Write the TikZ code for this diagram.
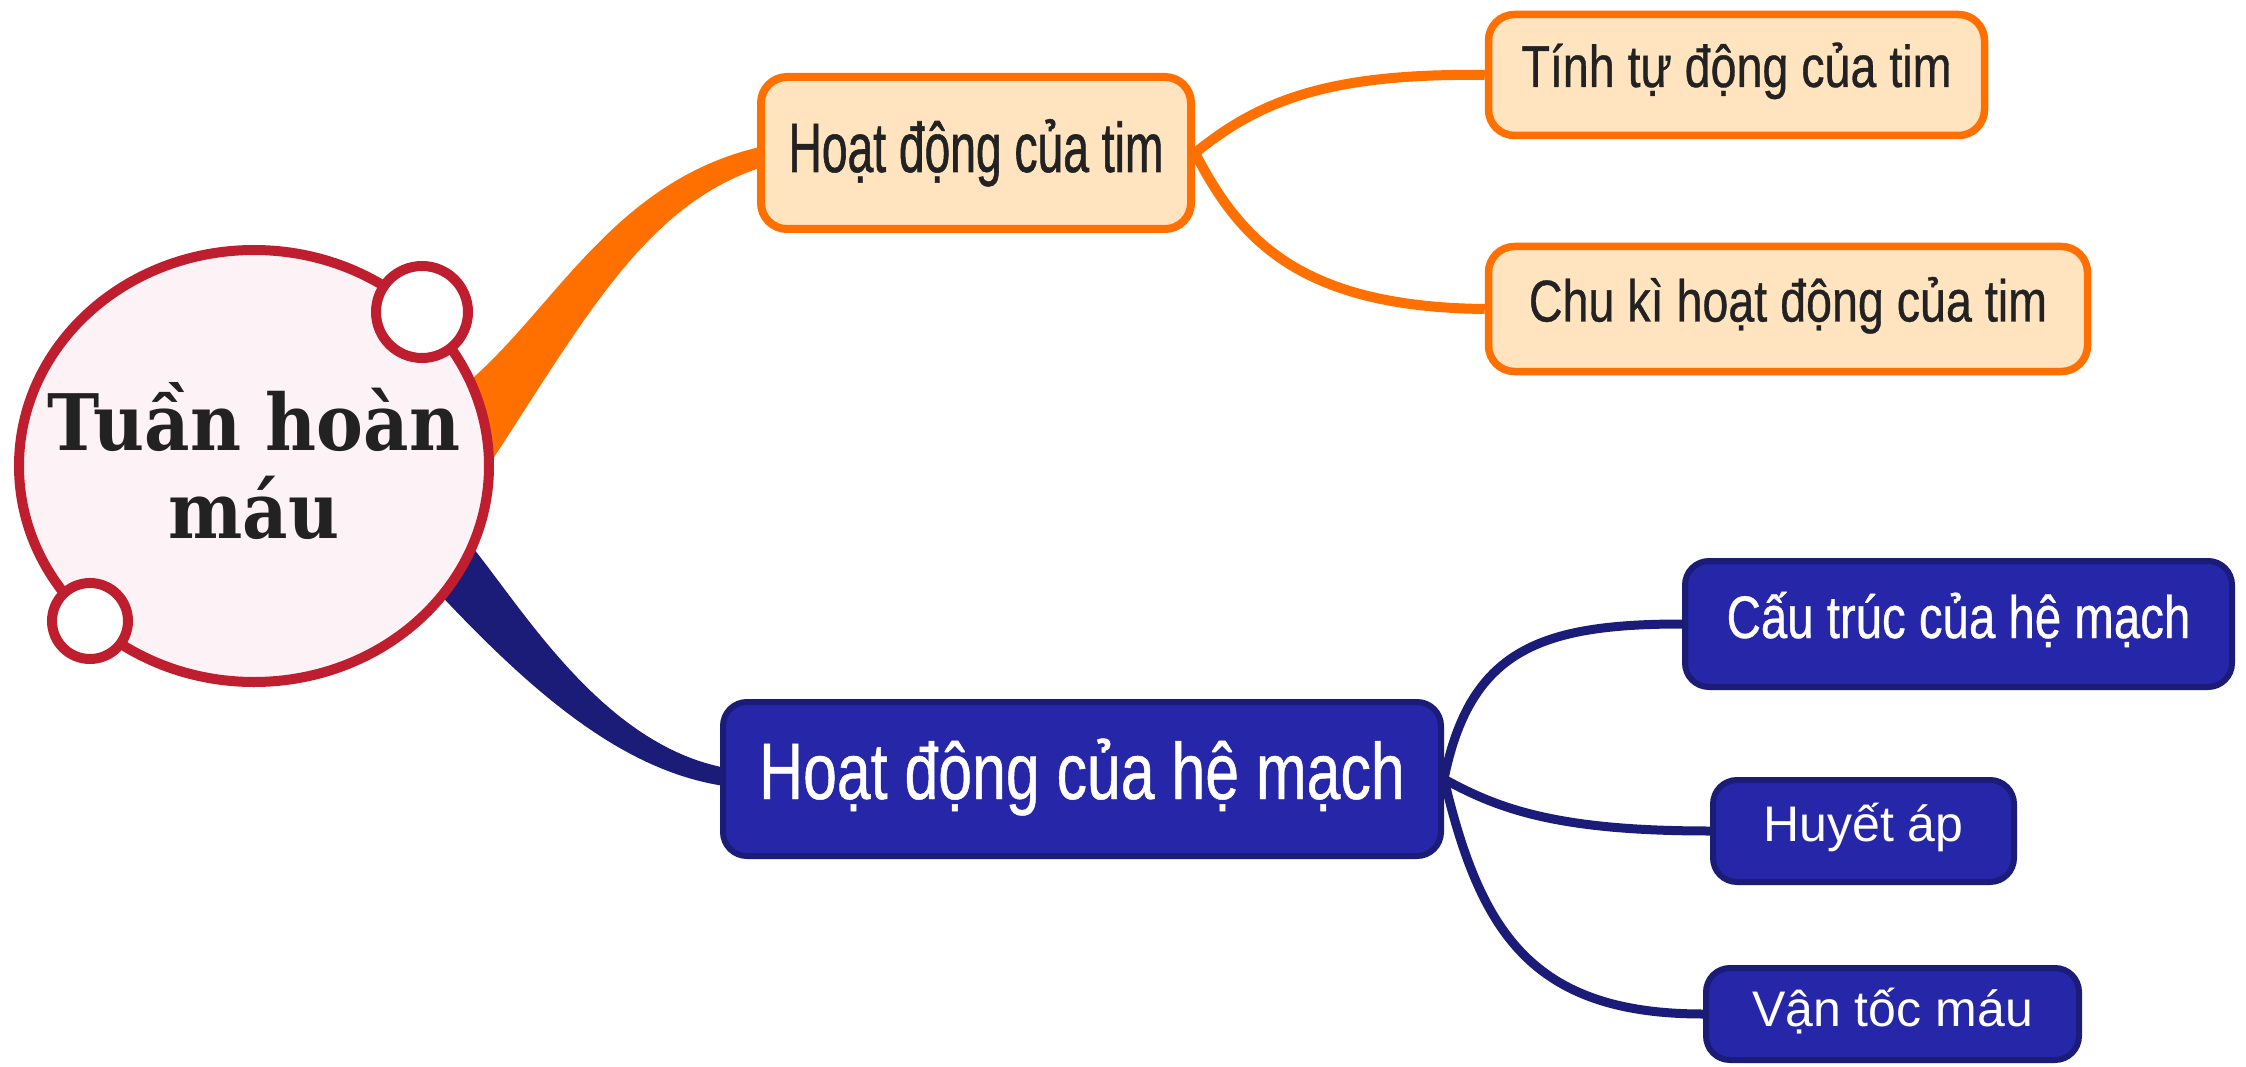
\documentclass[tikz,border=0pt]{standalone}
\usepackage{fontspec}
\usetikzlibrary{shapes.geometric,backgrounds,calc}

% Typefaces: a slab-like bold serif for the hub, narrow sans for the topics
\newfontfamily\hubfont{DejaVu Serif}[FakeStretch=0.9]
\newfontfamily\tightsans{Liberation Sans}[FakeStretch=0.66,FakeBold=0.8]
\newfontfamily\narrowsans{Liberation Sans}[FakeStretch=0.79,FakeBold=0.6]
\newfontfamily\midsans{Liberation Sans}[FakeStretch=0.76,FakeBold=0.6]
\newfontfamily\plainsans{Liberation Sans}

\definecolor{crimson}{RGB}{190,30,45}
\definecolor{blush}{RGB}{253,242,245}
\definecolor{flame}{RGB}{255,112,0}
\definecolor{peach}{RGB}{255,228,191}
\definecolor{indigo}{RGB}{38,38,168}
\definecolor{navyline}{RGB}{27,27,120}
\definecolor{ink}{RGB}{34,34,34}

\begin{document}
\begin{tikzpicture}[x=1pt,y=-1pt,
  hub/.style={ellipse, draw=crimson, line width=10pt, fill=blush, inner sep=0pt,
    minimum width=470pt, minimum height=432pt},
  hubtext/.style={align=center, text=ink, inner sep=0pt,
    font=\hubfont\bfseries\fontsize{78}{88}\selectfont},
  knob/.style={circle, draw=crimson, line width=10pt, fill=white, inner sep=0pt},
  warmbox/.style={rectangle, draw=flame, fill=peach, rounded corners=26pt,
    inner sep=0pt, line width=7.5pt, text=ink},
  coolbox/.style={rectangle, draw=navyline, fill=indigo, rounded corners=24pt,
    inner sep=0pt, line width=6pt, text=white},
  warmlink/.style={draw=flame, line width=10pt},
  coollink/.style={draw=navyline, line width=9pt},
]
\useasboundingbox (0,0) rectangle (2246,1067);

% central topic with its two decorative rings
\node[hub] (root) at (254,466) {};
\node[hubtext, text height=144pt, text depth=0pt] (roottext) at (root.center) {Tuần hoàn\\máu};
\node[knob, minimum size=92pt] (knobA) at (422,312) {};
\node[knob, minimum size=76pt] (knobB) at (90,621) {};

% heart branch
\node[warmbox, line width=8pt, minimum width=430pt, minimum height=152pt,
  font=\tightsans\fontsize{70}{84}\selectfont, text height=50pt, text depth=12pt]
  (heart) at (976,153) {Hoạt động của tim};
\node[warmbox, minimum width=496pt, minimum height=121pt,
  font=\narrowsans\fontsize{59}{70}\selectfont, text height=42pt, text depth=18pt]
  (auto) at (1736.5,75) {Tính tự động của tim};
\node[warmbox, minimum width=599pt, minimum height=125pt,
  font=\narrowsans\fontsize{59}{70}\selectfont, text height=42pt, text depth=17pt]
  (cycle) at (1788,309) {Chu kì hoạt động của tim};

% vessel branch
\node[coolbox, minimum width=718pt, minimum height=154pt,
  font=\midsans\fontsize{80}{96}\selectfont, text height=57pt, text depth=17pt]
  (vessels) at (1082,779) {Hoạt động của hệ mạch};
\node[coolbox, minimum width=547pt, minimum height=126pt,
  font=\narrowsans\fontsize{60}{72}\selectfont, text height=43pt, text depth=15pt]
  (structure) at (1958.5,624) {Cấu trúc của hệ mạch};
\node[coolbox, minimum width=301pt, minimum height=102pt,
  font=\plainsans\fontsize{50}{60}\selectfont, text height=36pt, text depth=16pt]
  (pressure) at (1863.5,831) {Huyết áp};
\node[coolbox, minimum width=373pt, minimum height=92pt,
  font=\plainsans\fontsize{50}{60}\selectfont, text height=36pt, text depth=12pt]
  (velocity) at (1892.5,1014) {Vận tốc máu};

% connectors, kept behind the topics
\begin{scope}[on background layer]
  \fill[flame] (root.center) -- (root.22)
    .. controls (560,300) and (620,175) .. ($(heart.west)+(12,-8)$)
    -- ($(heart.west)+(12,12)$)
    .. controls (650,200) and (590,310) .. (root.2) -- cycle;
  \fill[navyline] (root.center) -- (root.-21)
    .. controls (530,620) and (610,750) .. ($(vessels.west)+(12,-10)$)
    -- ($(vessels.west)+(12,8)$)
    .. controls (630,775) and (540,700) .. (root.-35) -- cycle;

  \draw[warmlink] (heart.east) .. controls (1260,100) and (1330,73) .. (auto.west);
  \draw[warmlink] (heart.east) .. controls (1240,240) and (1300,307) .. (cycle.west);

  \draw[coollink] (vessels.east) .. controls (1470,650) and (1540,624) .. (structure.west);
  \draw[coollink] (vessels.east) .. controls (1500,810) and (1560,831) .. (pressure.west);
  \draw[coollink] (vessels.east) .. controls (1480,930) and (1530,1014) .. (velocity.west);
\end{scope}
\end{tikzpicture}
\end{document}
